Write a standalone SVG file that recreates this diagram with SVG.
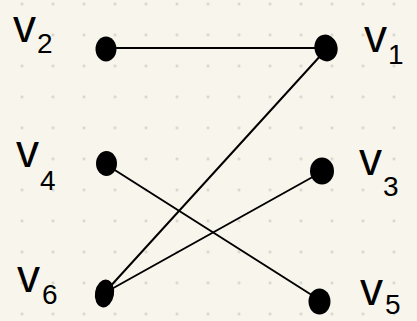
<svg xmlns="http://www.w3.org/2000/svg" width="417" height="321" viewBox="0 0 417 321">
  <defs>
    <pattern id="grid" x="6.5" y="-11.5" width="31" height="31" patternUnits="userSpaceOnUse">
      <circle cx="15.5" cy="15.5" r="1.4" fill="#d2d1cb"/>
    </pattern>
    <style>
      .edge { stroke: #000; stroke-width: 2; stroke-linecap: round; fill: none; }
      .node { fill: #000; }
      .lbl { font-family: "Liberation Sans", "DejaVu Sans", sans-serif; fill: #000; font-size: 46px; }
      .sub { font-size: 28px; }
    </style>
  </defs>
  <rect width="417" height="321" fill="#f8f6ec"/>
  <rect width="417" height="321" fill="url(#grid)"/>

  <g id="connectors">
    <line class="edge" x1="106" y1="48" x2="326" y2="48"/>
    <line class="edge" x1="322" y1="54" x2="107" y2="290"/>
    <line class="edge" x1="110" y1="167" x2="318" y2="299"/>
    <line class="edge" x1="318" y1="174" x2="108" y2="291"/>
  </g>

  <g id="v2">
    <ellipse class="node" cx="106" cy="49" rx="10.5" ry="12.5"/>
    <text class="lbl" x="13" y="42">v<tspan class="sub" x="37" y="53">2</tspan></text>
  </g>
  <g id="v1">
    <ellipse class="node" cx="326" cy="48" rx="11.5" ry="13.5" transform="rotate(-15 326 48)"/>
    <text class="lbl" x="364" y="52">v<tspan class="sub" x="388" y="64">1</tspan></text>
  </g>
  <g id="v4">
    <ellipse class="node" cx="106.5" cy="163.5" rx="10.5" ry="12.5"/>
    <text class="lbl" x="16" y="167">v<tspan class="sub" x="40" y="190">4</tspan></text>
  </g>
  <g id="v3">
    <ellipse class="node" cx="322" cy="171" rx="12" ry="13.5"/>
    <text class="lbl" x="359" y="175">v<tspan class="sub" x="383" y="196">3</tspan></text>
  </g>
  <g id="v6">
    <ellipse class="node" cx="104.5" cy="293.5" rx="9.5" ry="14" transform="rotate(10 104.5 293.5)"/>
    <text class="lbl" x="17" y="292">v<tspan class="sub" x="42" y="304">6</tspan></text>
  </g>
  <g id="v5">
    <ellipse class="node" cx="319.5" cy="301.5" rx="11" ry="13"/>
    <text class="lbl" x="360" y="305">v<tspan class="sub" x="385" y="314">5</tspan></text>
  </g>
</svg>
